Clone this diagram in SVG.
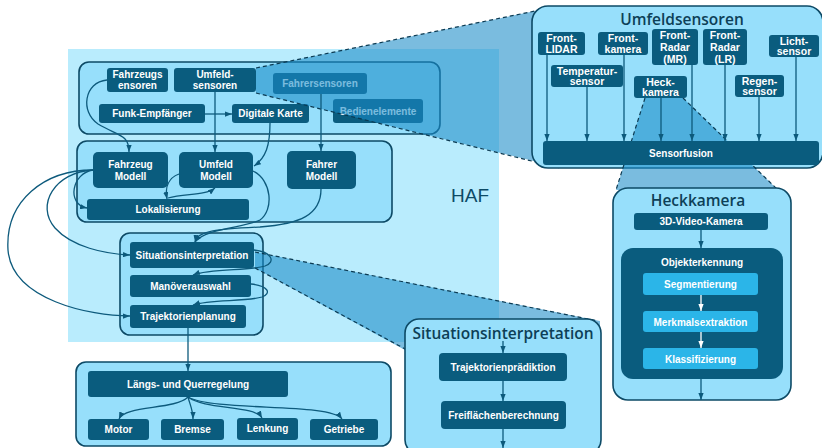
<svg xmlns="http://www.w3.org/2000/svg" width="822" height="448" viewBox="0 0 822 448">
<defs>
<style>
.box{fill:#97dffb;stroke:#0d4a66;stroke-width:1.6}
.n{fill:#0a5c7e}
.nl{fill:#2bb5e8}
.t{font-family:"Liberation Sans",Arial,sans-serif;font-weight:bold;font-size:10px;fill:#ffffff;text-anchor:middle}
.ts{font-family:"Liberation Sans",Arial,sans-serif;font-weight:bold;font-size:10.5px;fill:#ffffff;text-anchor:middle}
.ti{font-family:"Open Sans","Noto Sans",sans-serif;font-weight:600;font-size:15.5px;fill:#0d3f57;text-anchor:middle}
.c{fill:none;stroke:#0d5a7c;stroke-width:1.3}
.cw{fill:none;stroke:#ffffff;stroke-width:1.3}
.f{fill:#1a8cc8;fill-opacity:0.58}
.d{fill:none;stroke:#0b3a52;stroke-width:1.2;stroke-dasharray:4 3}
</style>
<marker id="a" viewBox="0 0 8 6" refX="8" refY="3" markerWidth="7" markerHeight="5.25" markerUnits="userSpaceOnUse" orient="auto"><path d="M0,0 L8,3 L0,6 z" fill="#0d5a7c"/></marker>
<marker id="aw" viewBox="0 0 8 6" refX="8" refY="3" markerWidth="7" markerHeight="5.25" markerUnits="userSpaceOnUse" orient="auto"><path d="M0,0 L8,3 L0,6 z" fill="#ffffff"/></marker>
</defs>

<rect id="haf" x="68" y="49" width="431" height="293" fill="#b9ecfd"/>
<text x="470" y="202" font-family="Liberation Sans,Arial,sans-serif" font-size="19" fill="#0d4a66" text-anchor="middle">HAF</text>

<g id="sensorik">
<rect class="box" x="79" y="62" width="361" height="72" rx="10"/>
<g id="fahrzeugsensoren"><rect class="n" x="107" y="68" width="61" height="24" rx="3"/><text class="t" x="137.5" y="78">Fahrzeugs</text><text class="t" x="137.5" y="89">ensoren</text></g>
<g id="umfeldsensoren"><rect class="n" x="174" y="68" width="82" height="24" rx="3"/><text class="t" x="215" y="78">Umfeld-</text><text class="t" x="215" y="89">sensoren</text></g>
<g id="fahrersensoren"><rect class="n" x="273" y="73" width="94" height="21" rx="3"/><text class="t" x="320" y="87">Fahrersensoren</text></g>
<g id="funk"><rect class="n" x="99" y="104" width="106" height="19" rx="3"/><text class="t" x="152" y="117">Funk-Empfänger</text></g>
<g id="karte"><rect class="n" x="232" y="104" width="77" height="19" rx="3"/><text class="t" x="270.5" y="117">Digitale Karte</text></g>
<g id="bedien"><rect class="n" x="333" y="99" width="90" height="24" rx="3"/><text class="t" x="378" y="114.5">Bedienelemente</text></g>
</g>

<g id="modelle">
<rect class="box" x="77" y="141" width="315" height="81" rx="10"/>
<g id="fahrzeugmodell"><rect class="n" x="93" y="152" width="75" height="36" rx="5"/><text class="t" x="130.5" y="168">Fahrzeug</text><text class="t" x="130.5" y="180">Modell</text></g>
<g id="umfeldmodell"><rect class="n" x="179" y="152" width="74" height="36" rx="5"/><text class="t" x="216" y="168">Umfeld</text><text class="t" x="216" y="180">Modell</text></g>
<g id="fahrermodell"><rect class="n" x="287" y="151" width="69" height="38" rx="5"/><text class="t" x="321.5" y="168">Fahrer</text><text class="t" x="321.5" y="180">Modell</text></g>
<g id="lokalisierung"><rect class="n" x="87" y="199" width="162" height="21" rx="3"/><text class="t" x="168" y="213">Lokalisierung</text></g>
</g>

<g id="planung">
<rect class="box" x="120" y="233" width="143" height="102" rx="10"/>
<g id="situation"><rect class="n" x="130" y="242" width="124" height="26" rx="3"/><text class="t" x="192" y="258.5">Situationsinterpretation</text></g>
<g id="manoever"><rect class="n" x="130" y="275" width="121" height="22" rx="3"/><text class="t" x="190.5" y="289.5">Manöverauswahl</text></g>
<g id="trajektorie"><rect class="n" x="130" y="305" width="116" height="23" rx="3"/><text class="t" x="188" y="320">Trajektorienplanung</text></g>
</g>

<g id="regelung">
<rect class="box" x="76" y="362" width="315" height="84" rx="10"/>
<g id="laengsquer"><rect class="n" x="88" y="371" width="200" height="26" rx="3"/><text class="t" x="188" y="387.5">Längs- und Querregelung</text></g>
<g id="motor"><rect class="n" x="88" y="419" width="61" height="21" rx="3"/><text class="t" x="118.5" y="433">Motor</text></g>
<g id="bremse"><rect class="n" x="161" y="419" width="63" height="21" rx="3"/><text class="t" x="192.5" y="433">Bremse</text></g>
<g id="lenkung"><rect class="n" x="237" y="418" width="61" height="22" rx="3"/><text class="t" x="267.5" y="432">Lenkung</text></g>
<g id="getriebe"><rect class="n" x="310" y="419" width="68" height="21" rx="3"/><text class="t" x="344" y="433">Getriebe</text></g>
</g>

<g id="zoom-funnels">
<polygon class="f" points="256,68 545,9 562,168 256,93"/>
<line class="d" x1="256" y1="68" x2="545" y2="9"/>
<line class="d" x1="256" y1="93" x2="560" y2="168"/>
<polygon class="f" points="255,252 600,321 600,345 405,350 255,268"/>
<line class="d" x1="255" y1="252" x2="598" y2="321"/>
<line class="d" x1="255" y1="268" x2="407" y2="350"/>
</g>

<g id="connectors">
<path class="c" marker-end="url(#a)" d="M107,80 C84,82 80,112 98,124 C118,136 129,134 129,152"/>
<path class="c" marker-end="url(#a)" d="M215,92 L215,152"/>
<path class="c" marker-end="url(#a)" d="M205,114 L232,114"/>
<path class="c" marker-end="url(#a)" d="M270,123 C270,145 266,158 254,166"/>
<path class="c" marker-end="url(#a)" d="M321,94 L321,151"/>
<path class="c" marker-end="url(#a)" d="M93,170 C72,173 66,204 87,208"/>
<path class="c" marker-end="url(#a)" d="M93,170 C55,172 35,205 55,228 C72,247 105,254 130,255"/>
<path class="c" marker-end="url(#a)" d="M93,170 C45,170 5,200 8,250 C12,300 90,316 130,316"/>
<path class="c" marker-end="url(#a)" d="M179,174 C168,178 165,188 167,199"/>
<path class="c" marker-end="url(#a)" d="M168,198 C185,193 205,196 215,188"/>
<path class="c" marker-end="url(#a)" d="M253,171 C272,180 274,210 260,220 C245,228 205,228 195,242"/>
<path class="c" marker-end="url(#a)" d="M321,189 C321,215 300,224 260,227 C220,229 197,230 195,242"/>
<path class="c" marker-end="url(#a)" d="M254,250 C272,252 276,262 265,266 C250,271 210,268 193,275"/>
<path class="c" marker-end="url(#a)" d="M251,284 C268,286 272,293 262,297 C245,302 210,299 193,305"/>
<path class="c" marker-end="url(#a)" d="M188,328 L188,371"/>
<path class="c" marker-end="url(#a)" d="M188,397 C175,410 125,405 119,419"/>
<path class="c" marker-end="url(#a)" d="M188,397 C190,405 193,410 193,419"/>
<path class="c" marker-end="url(#a)" d="M188,397 C205,410 255,405 262,418"/>
<path class="c" marker-end="url(#a)" d="M188,397 C215,412 330,402 342,419"/>
</g>

<g id="umfeld-detail">
<rect class="box" x="532" y="6" width="291" height="162" rx="16"/>
<text class="ti" x="682" y="25">Umfeldsensoren</text>
<polygon class="f" points="645,98 683,98 778,190 616,190"/>
<line class="d" x1="645" y1="98" x2="616" y2="190"/>
<line class="d" x1="683" y1="98" x2="778" y2="190"/>
<g id="frontlidar"><rect class="n" x="538" y="32" width="47" height="23" rx="3"/><text class="ts" x="561.5" y="42">Front-</text><text class="ts" x="561.5" y="53">LIDAR</text></g>
<g id="frontkamera"><rect class="n" x="598" y="32" width="50" height="23" rx="3"/><text class="ts" x="623" y="42">Front-</text><text class="ts" x="623" y="53">kamera</text></g>
<g id="radarmr"><rect class="n" x="652" y="29" width="46" height="36" rx="3"/><text class="ts" x="675" y="39">Front-</text><text class="ts" x="675" y="51">Radar</text><text class="ts" x="675" y="63">(MR)</text></g>
<g id="radarlr"><rect class="n" x="703" y="29" width="44" height="36" rx="3"/><text class="ts" x="725" y="39">Front-</text><text class="ts" x="725" y="51">Radar</text><text class="ts" x="725" y="63">(LR)</text></g>
<g id="licht"><rect class="n" x="769" y="35" width="50" height="22" rx="3"/><text class="ts" x="794" y="44.5">Licht-</text><text class="ts" x="794" y="55">sensor</text></g>
<g id="temperatur"><rect class="n" x="551" y="65" width="72" height="22" rx="3"/><text class="ts" x="587" y="74.5">Temperatur-</text><text class="ts" x="587" y="85">sensor</text></g>
<g id="heckkamera-node"><rect class="n" x="634" y="76" width="53" height="22" rx="3"/><text class="ts" x="660.5" y="85.5">Heck-</text><text class="ts" x="660.5" y="96">kamera</text></g>
<g id="regen"><rect class="n" x="735" y="75" width="49" height="22" rx="3"/><text class="ts" x="759.5" y="84.5">Regen-</text><text class="ts" x="759.5" y="95">sensor</text></g>
<g id="sensor-arrows">
<path class="c" marker-end="url(#a)" d="M547,55 L547,141"/>
<path class="c" marker-end="url(#a)" d="M587,87 L587,141"/>
<path class="c" marker-end="url(#a)" d="M624,55 L624,141"/>
<path class="c" marker-end="url(#a)" d="M661,98 L661,141"/>
<path class="c" marker-end="url(#a)" d="M692,65 L692,141"/>
<path class="c" marker-end="url(#a)" d="M725,65 L725,141"/>
<path class="c" marker-end="url(#a)" d="M759,97 L759,141"/>
<path class="c" marker-end="url(#a)" d="M796,57 L796,141"/>
</g>
<g id="sensorfusion"><rect class="n" x="543" y="141" width="276" height="24" rx="3"/><text class="t" x="681" y="156.5">Sensorfusion</text></g>
</g>

<g id="heck-detail">
<rect class="box" x="613" y="188" width="178" height="212" rx="15"/>
<text class="ti" x="698" y="206">Heckkamera</text>
<g id="video"><rect class="n" x="634" y="213" width="134" height="17" rx="3"/><text class="t" x="701" y="225">3D-Video-Kamera</text></g>
<g id="objekterkennung"><rect class="n" x="621" y="248" width="162" height="131" rx="12"/><text class="t" x="702" y="266">Objekterkennung</text></g>
<g id="segmentierung"><rect class="nl" x="643" y="273" width="115" height="22" rx="3"/><text class="t" x="700.5" y="288">Segmentierung</text></g>
<g id="merkmal"><rect class="nl" x="643" y="311" width="115" height="21" rx="3"/><text class="t" x="700.5" y="325.5">Merkmalsextraktion</text></g>
<g id="klassifizierung"><rect class="nl" x="643" y="348" width="115" height="21" rx="3"/><text class="t" x="700.5" y="362.5">Klassifizierung</text></g>
<path class="c" marker-end="url(#a)" d="M701,230 L701,248"/>
<path class="cw" marker-end="url(#aw)" d="M701,295 L701,311"/>
<path class="cw" marker-end="url(#aw)" d="M701,332 L701,348"/>
<path class="c" marker-end="url(#a)" d="M701,379 L701,400"/>
</g>

<g id="situation-detail">
<rect class="box" x="405" y="319" width="196" height="135" rx="14"/>
<text class="ti" x="503" y="339">Situationsinterpretation</text>
<g id="praediktion"><rect class="n" x="439" y="353" width="128" height="28" rx="4"/><text class="t" x="503" y="370.5">Trajektorienprädiktion</text></g>
<g id="freiflaechen"><rect class="n" x="441" y="401" width="125" height="28" rx="4"/><text class="t" x="503.5" y="418.5">Freiflächenberechnung</text></g>
<path class="c" marker-end="url(#a)" d="M503,341 L503,353"/>
<path class="c" marker-end="url(#a)" d="M503,381 L503,401"/>
<path class="c" marker-end="url(#a)" d="M503,429 L503,448"/>
</g>
</svg>
